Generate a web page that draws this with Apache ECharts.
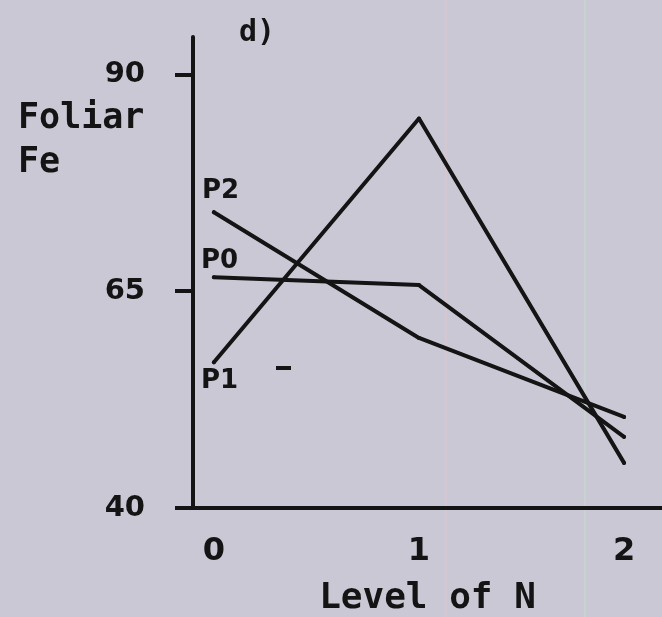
<!DOCTYPE html>
<html>
<head>
<meta charset="utf-8">
<script src="https://cdn.jsdelivr.net/npm/echarts@6/dist/echarts.min.js"></script>
<style>
  html, body { margin: 0; padding: 0; background: #cac8d4; }
  #chart { width: 662px; height: 617px; }
</style>
</head>
<body>
<div id="chart"></div>
<script>
// Level of N applied (x) and foliar Fe for each P level
const levels = [0, 1, 2];
const p0Values = [66.6, 65.7, 48.2];
const p1Values = [56.8, 84.9, 45.2];
const p2Values = [74.1, 59.6, 50.5];
const yTicks = [40, 65, 90];
const xTicks = [0, 1, 2];

const ink = '#141414';
const mono = '"DejaVu Sans Mono", monospace';
const sans = '"DejaVu Sans", sans-serif';

function pairs(values) {
  return levels.map((x, i) => [x, values[i]]);
}

// One polyline per P level; the series name is printed next to its first point
function lineSeries(name, values, labelPos) {
  return {
    name: name,
    type: 'line',
    data: pairs(values),
    symbol: 'circle',
    symbolSize: 4,
    showSymbol: true,
    itemStyle: { color: ink },
    lineStyle: { color: ink, width: 4, cap: 'round', join: 'round' },
    z: 3,
    label: {
      show: true,
      formatter: (p) => (p.dataIndex === 0 ? name : ''),
      position: labelPos,
      align: 'left',
      verticalAlign: 'top',
      fontFamily: sans,
      fontWeight: 'bold',
      fontSize: 26,
      color: ink
    },
    labelLayout: { hideOverlap: false },
    emphasis: { disabled: true }
  };
}

const chart = echarts.init(document.getElementById('chart'), null, { renderer: 'canvas' });

chart.setOption({
  backgroundColor: '#cac8d4',
  animation: false,
  grid: { left: 193, right: 0, top: 37, bottom: 109, containLabel: false, outerBoundsMode: 'none' },
  xAxis: {
    type: 'value',
    min: -0.102,
    max: 2.185,
    name: 'Level of N',
    nameLocation: 'middle',
    nameGap: 73,
    nameTextStyle: { fontFamily: mono, fontWeight: 'bold', fontSize: 36, color: ink },
    axisLine: { show: true, onZero: false, lineStyle: { color: ink, width: 4 } },
    axisTick: { show: false },
    splitLine: { show: false },
    axisLabel: {
      customValues: xTicks,
      fontFamily: sans,
      fontWeight: 'bold',
      fontSize: 32,
      color: ink,
      margin: 28
    }
  },
  yAxis: {
    type: 'value',
    min: 40,
    max: 94.3,
    axisLine: { show: true, onZero: false, lineStyle: { color: ink, width: 4 } },
    axisTick: {
      show: true,
      customValues: yTicks,
      length: 18,
      lineStyle: { color: ink, width: 4 }
    },
    splitLine: { show: false },
    axisLabel: {
      customValues: yTicks,
      fontFamily: sans,
      fontWeight: 'bold',
      fontSize: 29,
      color: ink,
      margin: 48
    }
  },
  graphic: [
    { type: 'rect', shape: { x: 445, y: 0, width: 2, height: 617 }, style: { fill: '#d6c6d0' }, silent: true, z: 0 },
    { type: 'rect', shape: { x: 584, y: 0, width: 2, height: 617 }, style: { fill: '#c6d3cf' }, silent: true, z: 0 },
    { type: 'text', left: 239, top: 18, style: { text: 'd)', font: 'bold 30px ' + mono, fill: ink }, z: 5 },
    { type: 'text', left: 18, top: 97, style: { text: 'Foliar\nFe', font: 'bold 35px ' + mono, lineHeight: 44, fill: ink }, z: 5 },
    { type: 'rect', shape: { x: 276, y: 366, width: 15, height: 4 }, style: { fill: ink }, silent: true, z: 5 }
  ],
  series: [
    lineSeries('P0', p0Values, [-11, -27]),
    lineSeries('P1', p1Values, [-11, 8]),
    lineSeries('P2', p2Values, [-10, -32])
  ]
});
</script>
</body>
</html>
